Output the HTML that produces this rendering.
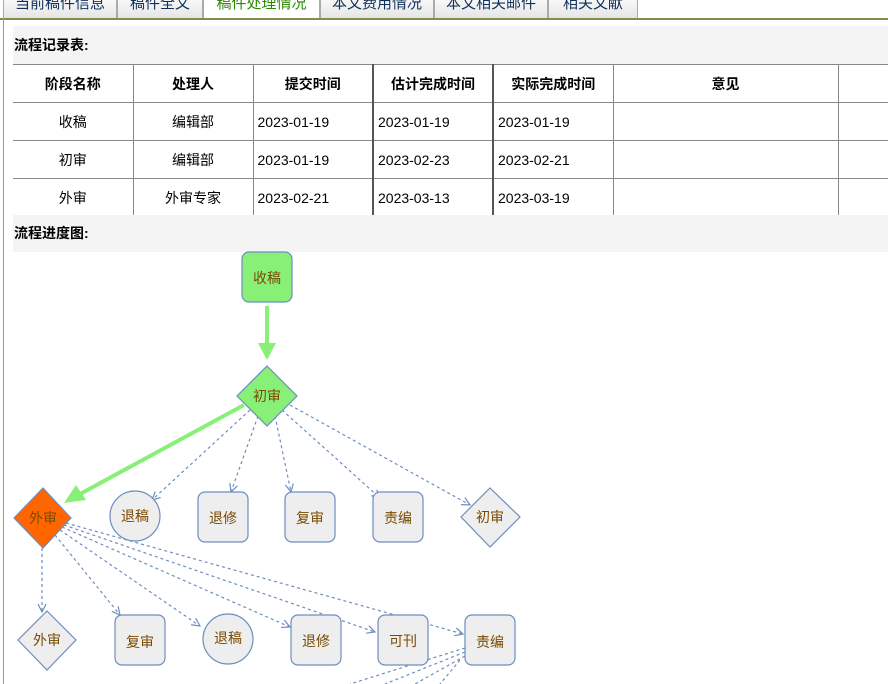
<!DOCTYPE html>
<html><head><meta charset="utf-8"><style>
*{margin:0;padding:0;box-sizing:border-box}
body{width:888px;height:684px;overflow:hidden;background:#fff;font-family:"Liberation Sans","Noto Sans CJK SC",sans-serif;font-size:14px;color:#000;position:relative}
.tab{position:absolute;top:-8px;height:26px;line-height:22px;font-size:15px;color:#10305a;text-align:center;background:linear-gradient(#fff,#e6e6e6);border:1px solid #aaa;border-bottom:none}
.tab.act{background:#fff;color:#2a8a00;height:27px}
.hdr{position:absolute;left:13px;width:875px;background:#f4f4f4;font-weight:bold;font-size:14px;padding-left:1px}
table{position:absolute;left:13px;top:64px;border-collapse:collapse;width:880px}
td,th{border:1px solid #888;height:38px;font-size:14px;text-align:center}
tr td:first-child,tr th:first-child{border-left:none}
th{font-weight:bold}
td.l{text-align:left;padding-left:4px}
</style></head><body>
<div class="tab" style="left:3px;width:114px">当前稿件信息</div>
<div class="tab" style="left:117px;width:86px">稿件全文</div>
<div class="tab act" style="left:203px;width:117px">稿件处理情况</div>
<div class="tab" style="left:320px;width:114px">本文费用情况</div>
<div class="tab" style="left:434px;width:114px">本文相关邮件</div>
<div class="tab" style="left:548px;width:90px">相关文献</div>
<div style="position:absolute;left:0;top:18px;width:888px;height:2px;background:#8a8a50"></div>
<div style="position:absolute;left:3px;top:18px;width:1px;height:666px;background:#999"></div>
<div class="hdr" style="top:26px;height:38px;line-height:38px">流程记录表:</div>
<table>
<tr><th style="width:120px">阶段名称</th><th style="width:120px">处理人</th><th style="width:120px">提交时间</th><th style="width:120px;border-left:2px solid #555">估计完成时间</th><th style="width:120px;border-left:2px solid #555">实际完成时间</th><th style="width:225px">意见</th><th></th></tr>
<tr><td>收稿</td><td>编辑部</td><td class="l">2023-01-19</td><td class="l" style="border-left:2px solid #555">2023-01-19</td><td class="l" style="border-left:2px solid #555">2023-01-19</td><td></td><td></td></tr>
<tr><td>初审</td><td>编辑部</td><td class="l">2023-01-19</td><td class="l" style="border-left:2px solid #555">2023-02-23</td><td class="l" style="border-left:2px solid #555">2023-02-21</td><td></td><td></td></tr>
<tr><td>外审</td><td>外审专家</td><td class="l">2023-02-21</td><td class="l" style="border-left:2px solid #555">2023-03-13</td><td class="l" style="border-left:2px solid #555">2023-03-19</td><td></td><td></td></tr>
</table>
<div class="hdr" style="top:215px;height:37px;line-height:37px">流程进度图:</div>
<svg style="position:absolute;left:0;top:0" width="888" height="684" font-family="Liberation Sans,Noto Sans CJK SC,sans-serif" font-size="14">
<defs>
<marker id="a" markerWidth="10" markerHeight="10" refX="9" refY="5" orient="auto" markerUnits="userSpaceOnUse"><path d="M1,1 L9,5 L1,9" fill="none" stroke="#6c8ebf" stroke-width="1.2"/></marker>
</defs>
<g stroke="#6c8ebf" stroke-width="1.2" stroke-dasharray="3,3" fill="none" marker-end="url(#a)">
<line x1="250" y1="410" x2="152" y2="500"/>
<line x1="258" y1="416" x2="231" y2="492"/>
<line x1="275" y1="416" x2="291" y2="492"/>
<line x1="282" y1="410" x2="380" y2="498"/>
<line x1="290" y1="405" x2="470" y2="505"/>
<line x1="42" y1="548" x2="42" y2="612"/>
<line x1="55" y1="535" x2="120" y2="615"/>
<line x1="60" y1="530" x2="200" y2="626"/>
<line x1="62" y1="527" x2="290" y2="627"/>
<line x1="64" y1="525" x2="375" y2="632"/>
<line x1="66" y1="523" x2="463" y2="634"/>
<line x1="465" y1="648" x2="350" y2="684" marker-end="none"/>
<line x1="465" y1="652" x2="385" y2="684" marker-end="none"/>
<line x1="465" y1="656" x2="415" y2="684" marker-end="none"/>
<line x1="460" y1="660" x2="440" y2="684" marker-end="none"/>
</g>
<line x1="267" y1="306" x2="267" y2="345" stroke="#88f077" stroke-width="4"/>
<path d="M258,343 L276,343 L267,360 Z" fill="#88f077"/>
<line x1="244" y1="405" x2="80" y2="494" stroke="#88f077" stroke-width="4"/>
<path d="M64,503 L76,485 L86,500 Z" fill="#88f077"/>
<g stroke="#6c8ebf" stroke-width="1.2">
<rect x="242" y="252" width="50" height="50" rx="7" fill="#88f077"/>
<path d="M267,366 L297,396 L267,426 L237,396 Z" fill="#88f077"/>
<path d="M43,488 L71,518 L43,548 L14,518 Z" fill="#ff6600"/>
<circle cx="135" cy="516" r="25" fill="#eee"/>
<rect x="198" y="492" width="50" height="50" rx="7" fill="#eee"/>
<rect x="285" y="492" width="50" height="50" rx="7" fill="#eee"/>
<rect x="373" y="492" width="50" height="50" rx="7" fill="#eee"/>
<path d="M490,488 L520,517 L490,547 L461,517 Z" fill="#eee"/>
<path d="M47,611 L76,640 L47,670 L18,640 Z" fill="#eee"/>
<rect x="115" y="615" width="50" height="50" rx="7" fill="#eee"/>
<circle cx="228" cy="639" r="25" fill="#eee"/>
<rect x="291" y="615" width="50" height="50" rx="7" fill="#eee"/>
<rect x="378" y="615" width="50" height="50" rx="7" fill="#eee"/>
<rect x="465" y="615" width="50" height="50" rx="7" fill="#eee"/>
</g>
<g fill="#7a4a00" text-anchor="middle">
<text x="267" y="283">收稿</text>
<text x="267" y="401">初审</text>
<text x="43" y="523">外审</text>
<text x="135" y="521">退稿</text>
<text x="223" y="523">退修</text>
<text x="310" y="523">复审</text>
<text x="398" y="523">责编</text>
<text x="490" y="522">初审</text>
<text x="47" y="645">外审</text>
<text x="140" y="647">复审</text>
<text x="228" y="643">退稿</text>
<text x="316" y="646">退修</text>
<text x="403" y="646">可刊</text>
<text x="490" y="647">责编</text>
</g>
</svg>
</body></html>
